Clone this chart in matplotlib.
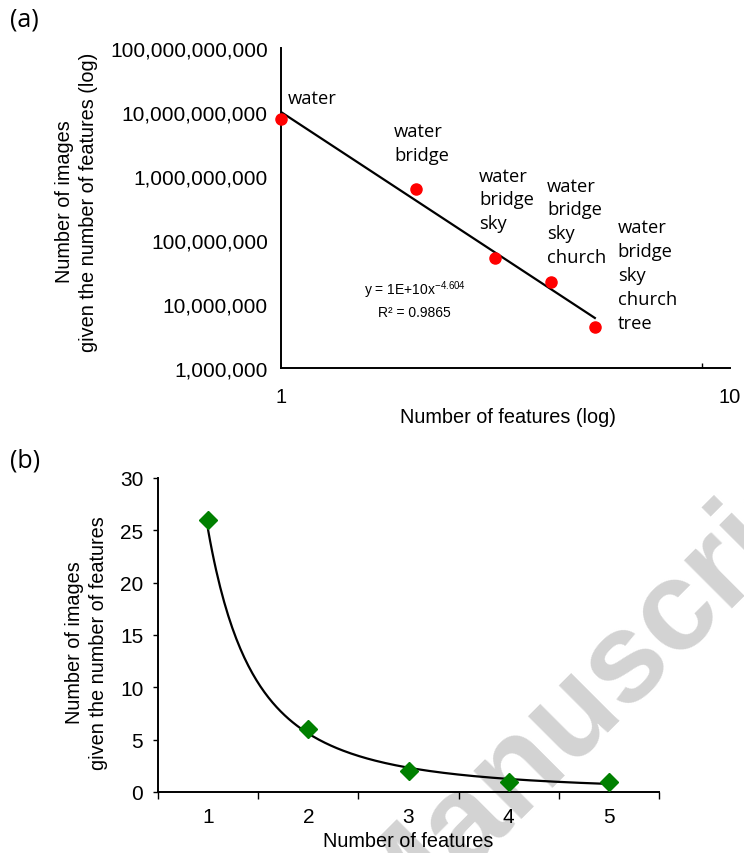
import numpy as np
import matplotlib.pyplot as plt

plt.rcParams['font.family'] = ['Liberation Sans', 'DejaVu Sans']
plt.rcParams['mathtext.default'] = 'regular'

# panel (a): log-log, images vs number of features
feat_counts = [1, 2, 3, 4, 5]
img_counts_log = [7.8e9, 6.3e8, 5.2e7, 2.2e7, 4.4e6]
feat_names = ['water',
              'water\nbridge',
              'water\nbridge\nsky',
              'water\nbridge\nsky\nchurch',
              'water\nbridge\nsky\nchurch\ntree']
fit_coef = 1e10
fit_exp = -4.604
fit_r2 = 0.9865
a_yticks = [1e6, 1e7, 1e8, 1e9, 1e10, 1e11]
a_xticks = [1, 10]

# panel (b): linear
img_counts = [26, 6, 2, 1, 1]
b_yticks = [0, 5, 10, 15, 20, 25, 30]

# label offsets (points) for the feature lists in (a)
lbl_off = [(5, 21.5), (-16, 48), (-11.5, 66), (-3, 76), (16.5, 78)]

fig = plt.figure(figsize=(7.44, 8.54), dpi=100)

# watermark behind everything
fig.text(0.5578, -0.0831, 'Accepted Manuscript', rotation=45, rotation_mode='anchor',
         ha='center', va='baseline', fontsize=92, fontweight='bold',
         color='#d3d3d3', zorder=-1)

##(a)
ax1 = fig.add_axes([281/744, 1-369/854, 449/744, 320/854])
ax1.set_facecolor('none')
ax1.set_xscale('log')
ax1.set_yscale('log')
ax1.set_xlim(1, 10)
ax1.set_ylim(1e6, 1e11)
for s in ['top', 'right']:
    ax1.spines[s].set_visible(False)
for s in ['left', 'bottom']:
    ax1.spines[s].set_linewidth(1.4)

ax1.set_yticks(a_yticks)
ax1.set_yticklabels(['{:,}'.format(int(v)) for v in a_yticks])
ax1.yaxis.set_minor_locator(plt.NullLocator())
ax1.tick_params(axis='y', length=0, pad=9.5, labelsize=15)
ax1.set_xticks(a_xticks)
ax1.set_xticklabels([str(v) for v in a_xticks])
ax1.set_xticks([8.66], minor=True)
ax1.set_xticklabels([''], minor=True)
ax1.tick_params(axis='x', which='major', length=0, pad=13.5, labelsize=14.5)
ax1.tick_params(axis='x', which='minor', length=3.6, direction='in', width=1)

xs = np.linspace(feat_counts[0], feat_counts[-1], 50)
ax1.plot(xs, fit_coef * xs**fit_exp, color='k', lw=1.6, zorder=2)
ax1.plot(feat_counts, img_counts_log, 'o', color='#ff0000', ms=8, zorder=3, clip_on=False)

for i in range(len(feat_counts)):
    ax1.annotate(feat_names[i], (feat_counts[i], img_counts_log[i]), xytext=lbl_off[i],
                 textcoords='offset points', ha='left', va='top', fontsize=13.2,
                 family=['Open Sans', 'DejaVu Sans'], linespacing=1.42)

ax1.text(0.298, 0.247, 'y = 1E+10x$^{%s}$' % fit_exp, transform=ax1.transAxes,
         ha='center', va='center', fontsize=10)
ax1.text(0.298, 0.175, 'R² = %s' % fit_r2, transform=ax1.transAxes,
         ha='center', va='center', fontsize=10)

ax1.set_xlabel('Number of features (log)', fontsize=14.3)
ax1.xaxis.label.set_va('center')
ax1.xaxis.set_label_coords(0.505, -0.153)
ax1.set_ylabel('Number of images\ngiven the number of features (log)', fontsize=14.3, linespacing=1.35)
ax1.yaxis.label.set_va('center')
ax1.yaxis.set_label_coords(-0.455, 0.522)

##(b)
ax2 = fig.add_axes([158/744, 1-793/854, 501/744, 314/854])
ax2.set_facecolor('none')
ax2.set_xlim(0.5, 5.5)
ax2.set_ylim(0, 30)
for s in ['top', 'right']:
    ax2.spines[s].set_visible(False)
for s in ['left', 'bottom']:
    ax2.spines[s].set_linewidth(1.4)

ax2.set_yticks(b_yticks)
ax2.tick_params(axis='y', length=3.6, width=1, pad=7, labelsize=15)
ax2.set_xticks(np.arange(0.5, 6, 1))
ax2.set_xticklabels([])
ax2.set_xticks(feat_counts, minor=True)
ax2.set_xticklabels([str(v) for v in feat_counts], minor=True)
ax2.tick_params(axis='x', which='major', length=5, width=1)
ax2.tick_params(axis='x', which='minor', length=0, pad=11, labelsize=15)

# power trendline fitted in log space
b, loga = np.polyfit(np.log(feat_counts), np.log(img_counts), 1)
xs2 = np.linspace(feat_counts[0], feat_counts[-1], 200)
ax2.plot(xs2, np.exp(loga) * xs2**b, color='k', lw=1.6, zorder=2)
ax2.plot(feat_counts, img_counts, 'D', color='#008000', ms=9, zorder=3, clip_on=False)

ax2.set_xlabel('Number of features', fontsize=14.3)
ax2.xaxis.label.set_va('center')
ax2.xaxis.set_label_coords(0.499, -0.156)
ax2.set_ylabel('Number of images\ngiven the number of features', fontsize=14.3, linespacing=1.35)
ax2.yaxis.label.set_va('center')
ax2.yaxis.set_label_coords(-0.142, 0.478)

fig.text(10/744, 1-20/854, '(a)', fontsize=18, family=['Open Sans', 'DejaVu Sans'], va='center')
fig.text(10/744, 1-461/854, '(b)', fontsize=18, family=['Open Sans', 'DejaVu Sans'], va='center')

fig.savefig('out.png', dpi=100)
